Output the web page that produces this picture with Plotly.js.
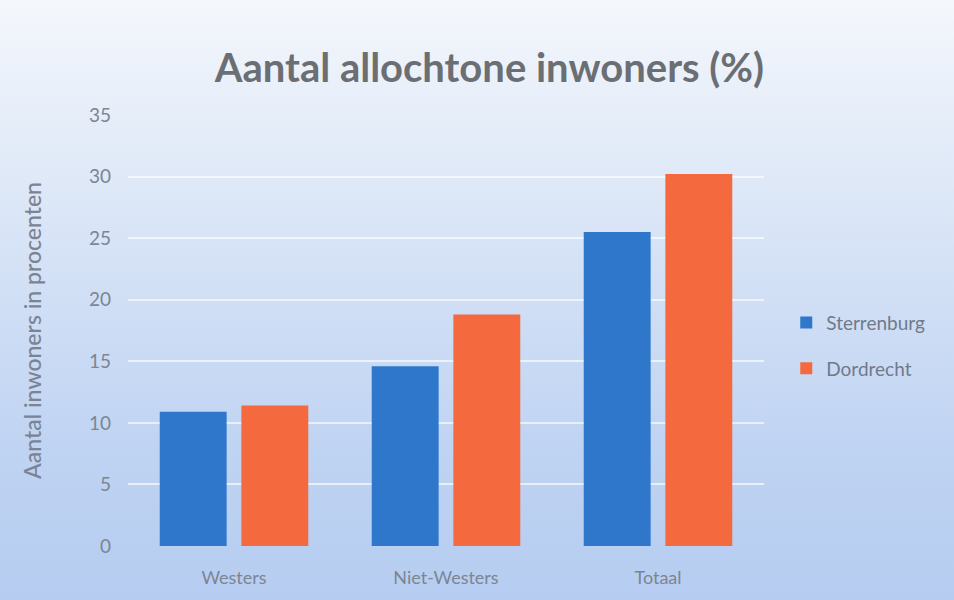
<!DOCTYPE html>
<html><head><meta charset="utf-8">
<script src="https://cdn.plot.ly/plotly-3.0.1.min.js"></script>
<style>
html,body{margin:0;padding:0;}
#chart{width:954px;height:600px;background:linear-gradient(to bottom,#f4f7fc 0%,#dbe6f7 35%,#bfd3f2 75%,#b6cdf1 100%);}
</style></head>
<body><div id="chart"></div>
<script>
var categories = ["Westers", "Niet-Westers", "Totaal"];
var sterrenburg = [10.9, 14.6, 25.5];
var dordrecht = [11.4, 18.8, 30.2];
var seriesNames = ["Sterrenburg", "Dordrecht"];
var yTicks = [0, 5, 10, 15, 20, 25, 30, 35];

var font = "Lato, 'Open Sans', sans-serif";
var traces = [
  {type:"bar", name:seriesNames[0], legendgroup:"a", x:categories, y:sterrenburg, marker:{color:"#2f77cb"}},
  {type:"bar", name:seriesNames[1], legendgroup:"b", x:categories, y:dordrecht, marker:{color:"#f46a3e"}}
];
var layout = {
  width:954, height:600,
  paper_bgcolor:"rgba(0,0,0,0)", plot_bgcolor:"rgba(0,0,0,0)",
  margin:{l:128, r:190, t:115, b:54},
  barmode:"group", bargap:0.23, bargroupgap:0.18,
  title:{text:"<b>Aantal allochtone inwoners (%)</b>", x:0.513, xanchor:"center", y:0.887, yanchor:"middle",
         font:{family:font, size:40, color:"#6b6e73"}},
  xaxis:{tickfont:{family:font, size:18, color:"#7c8592"}, showline:false, ticks:"", showgrid:false, zeroline:false,
         ticklabelstandoff:19},
  yaxis:{range:[0,35], tickvals:yTicks, tickfont:{family:font, size:19, color:"#7c8592"},
         gridcolor:"rgba(255,255,255,0.65)", gridwidth:2, zeroline:false, showline:false, ticks:"",
         ticklabelstandoff:16,
         title:{text:"Aantal inwoners in procenten", font:{family:font, size:23, color:"#7a8494", weight:500}, standoff:40}},
  legend:{x:1.035, xanchor:"left", y:0.465, yanchor:"middle", font:{family:font, size:19, color:"#6f7a8a"},
          bgcolor:"rgba(0,0,0,0)", itemwidth:30, tracegroupgap:18},
  showlegend:true
};
Plotly.newPlot("chart", traces, layout, {displayModeBar:false, staticPlot:true});
</script></body></html>
